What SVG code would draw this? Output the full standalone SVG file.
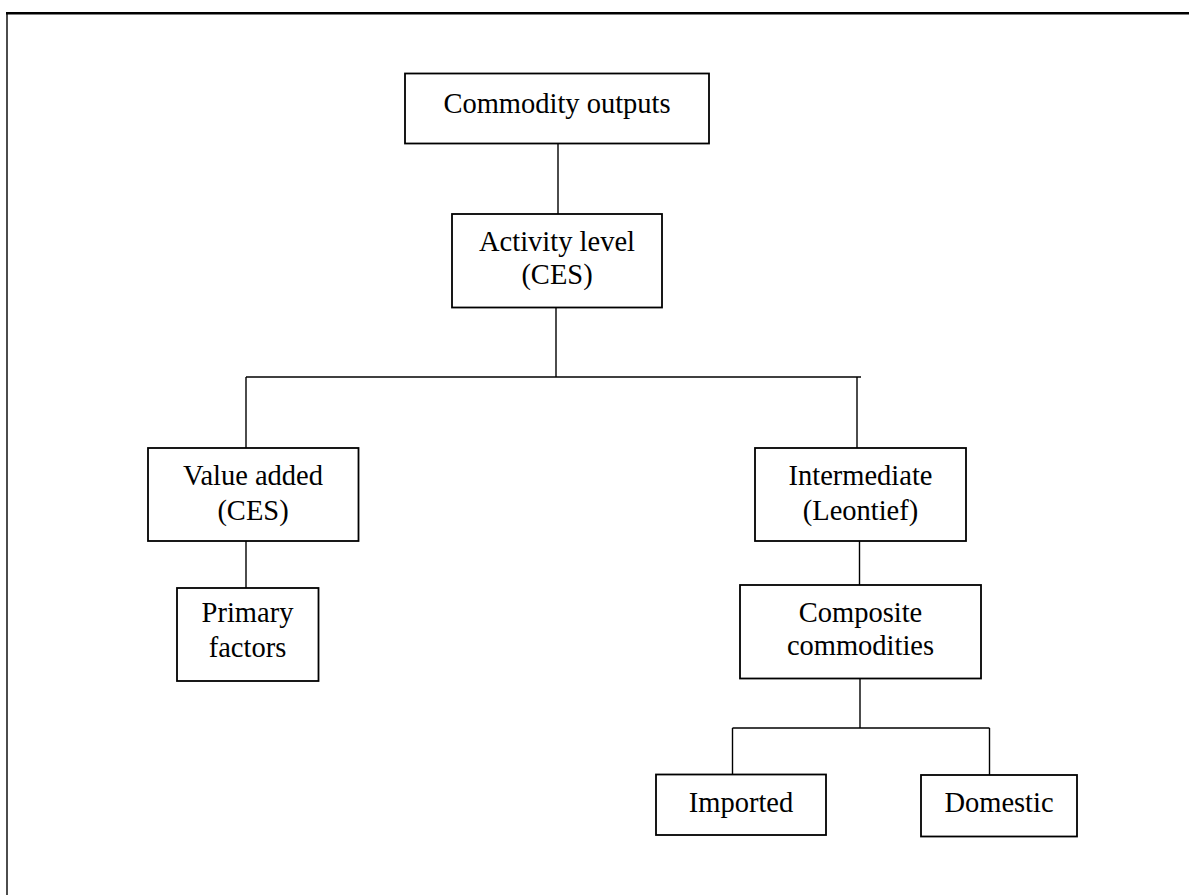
<svg xmlns="http://www.w3.org/2000/svg" width="1189" height="895" viewBox="0 0 1189 895">
<style>
.box{fill:#fff;stroke:#000;stroke-width:1.8}
.con{fill:none;stroke:#000;stroke-width:1.4}
.frame{fill:none;stroke:#000}
text{font-family:"Liberation Serif","Times New Roman",serif;font-size:28.5px;fill:#000;text-anchor:middle}
</style>
<rect width="1189" height="895" fill="#fff"/>
<g id="frame">
<line class="frame" x1="6" y1="13.3" x2="1189" y2="13.3" stroke-width="2.4"/>
<line class="frame" x1="7" y1="12" x2="7" y2="895" stroke-width="1.4"/>
</g>
<g id="connectors">
<line class="con" x1="558" y1="144" x2="558" y2="214"/>
<line class="con" x1="556" y1="307" x2="556" y2="377"/>
<line class="con" x1="246" y1="377" x2="861" y2="377"/>
<line class="con" x1="246" y1="377" x2="246" y2="448"/>
<line class="con" x1="857" y1="377" x2="857" y2="448"/>
<line class="con" x1="246" y1="541" x2="246" y2="588"/>
<line class="con" x1="859.5" y1="541" x2="859.5" y2="585"/>
<line class="con" x1="860" y1="678" x2="860" y2="728"/>
<line class="con" x1="732.5" y1="728" x2="989.5" y2="728"/>
<line class="con" x1="732.5" y1="728" x2="732.5" y2="775"/>
<line class="con" x1="989.5" y1="728" x2="989.5" y2="775"/>
</g>
<g id="commodity-outputs">
<rect class="box" x="405" y="73.5" width="304" height="70"/>
<text x="557" y="113">Commodity outputs</text>
</g>
<g id="activity-level">
<rect class="box" x="452" y="214" width="210" height="93.5"/>
<text x="557" y="250.5">Activity level</text>
<text x="557" y="283.5">(CES)</text>
</g>
<g id="value-added">
<rect class="box" x="148" y="448" width="210.5" height="93"/>
<text x="253" y="485">Value added</text>
<text x="253" y="520">(CES)</text>
</g>
<g id="primary-factors">
<rect class="box" x="177" y="588" width="141.5" height="93"/>
<text x="247.5" y="622">Primary</text>
<text x="247.5" y="656.5">factors</text>
</g>
<g id="intermediate">
<rect class="box" x="755" y="448" width="211" height="93"/>
<text x="860.5" y="485">Intermediate</text>
<text x="860.5" y="520">(Leontief)</text>
</g>
<g id="composite-commodities">
<rect class="box" x="740" y="585" width="241" height="93.5"/>
<text x="860.5" y="621.5">Composite</text>
<text x="860.5" y="655">commodities</text>
</g>
<g id="imported">
<rect class="box" x="656" y="774.5" width="170" height="60.5"/>
<text x="741" y="811.5">Imported</text>
</g>
<g id="domestic">
<rect class="box" x="921" y="775" width="156" height="61.5"/>
<text x="999" y="811.5">Domestic</text>
</g>
</svg>
